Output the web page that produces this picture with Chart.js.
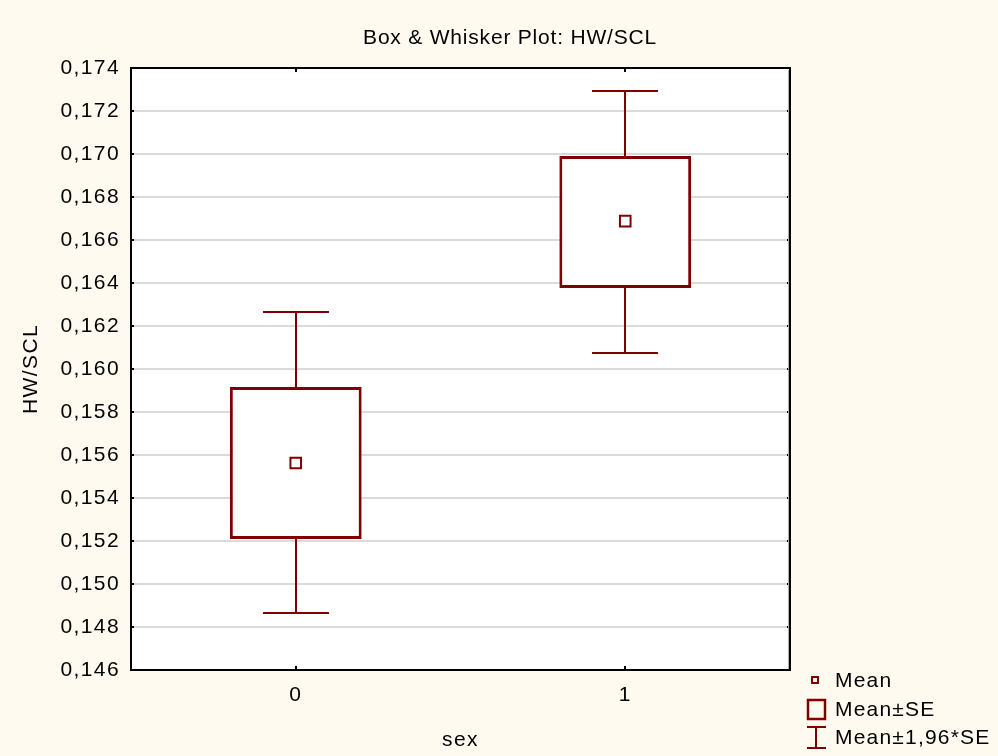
<!DOCTYPE html>
<html>
<head>
<meta charset="utf-8">
<script src="https://cdn.jsdelivr.net/npm/chart.js@4.4.0/dist/chart.umd.min.js"></script>
<style>
  body { margin: 0; background: #fffaf0; }
  canvas { display: block; }
</style>
</head>
<body>
<canvas id="chart" width="998" height="756"></canvas>
<script>
  const categories = ["0", "1"]
  const means = [0.15563, 0.16688]       // Mean
  const seLow = [0.15209, 0.16377]       // Mean-SE
  const seHigh = [0.15916, 0.16991]      // Mean+SE
  const ciLow = [0.14865, 0.16074]       // Mean-1,96*SE
  const ciHigh = [0.16265, 0.17293]      // Mean+1,96*SE
  const yTicks = [0.146, 0.148, 0.150, 0.152, 0.154, 0.156, 0.158, 0.160, 0.162, 0.164, 0.166, 0.168, 0.170, 0.172, 0.174]

  const red = "#800000"
  const font = "'Liberation Sans', Arial, sans-serif"

  function fmt(v){  // 0.146 -> 0,146
    return Number(v).toFixed(3).replace(".", ",")
  }

  const backPlugin = {
    id: "back",
    beforeDraw(chart){
      const ctx = chart.ctx
      const a = chart.chartArea
      ctx.letterSpacing = "1.4px"
      ctx.save()
      ctx.fillStyle = "#fffaf0"
      ctx.fillRect(0, 0, chart.width, chart.height)
      ctx.fillStyle = "#ffffff"
      ctx.fillRect(a.left, a.top, a.right - a.left, a.bottom - a.top)
      ctx.restore()
    }
  }

  const whiskerPlugin = {  // the 1,96*SE whiskers, drawn under the boxes
    id: "whiskers",
    beforeDatasetsDraw(chart){
      const ctx = chart.ctx
      const xs = chart.scales.x
      const ys = chart.scales.y
      const half = (xs.getPixelForValue(1) - xs.getPixelForValue(0)) * 0.1
      ctx.save()
      ctx.strokeStyle = red
      ctx.lineWidth = 2
      for (let i = 0; i < categories.length; i++) {
        const x = Math.round(xs.getPixelForValue(i))
        const yl = Math.round(ys.getPixelForValue(ciLow[i]))
        const yh = Math.round(ys.getPixelForValue(ciHigh[i]))
        ctx.beginPath()
        ctx.moveTo(x, yl); ctx.lineTo(x, yh)
        ctx.moveTo(x - half, yl); ctx.lineTo(x + half, yl)
        ctx.moveTo(x - half, yh); ctx.lineTo(x + half, yh)
        ctx.stroke()
      }
      ctx.restore()
    }
  }

  const framePlugin = {  // frame, inner ticks, title and legend
    id: "frame",
    afterDraw(chart){
      const ctx = chart.ctx
      const a = chart.chartArea
      const xs = chart.scales.x
      const ys = chart.scales.y
      ctx.save()
      ctx.strokeStyle = "#000"
      ctx.lineWidth = 2
      ctx.strokeRect(a.left, a.top, a.right - a.left, a.bottom - a.top)
      ctx.beginPath()
      yTicks.forEach((t)=>{
        const y = Math.round(ys.getPixelForValue(t))
        ctx.moveTo(a.left, y); ctx.lineTo(a.left + 3, y)
        ctx.moveTo(a.right, y); ctx.lineTo(a.right - 3, y)
      })
      categories.forEach((c, i)=>{
        const x = Math.round(xs.getPixelForValue(i))
        ctx.moveTo(x, a.top); ctx.lineTo(x, a.top + 4)
        ctx.moveTo(x, a.bottom); ctx.lineTo(x, a.bottom - 4)
      })
      ctx.stroke()
      ctx.strokeStyle = "#b0b0b0"   // light shadow inside the right edge
      ctx.lineWidth = 1
      ctx.beginPath()
      ctx.moveTo(a.right - 1.5, a.top + 2); ctx.lineTo(a.right - 1.5, a.bottom - 1)
      ctx.stroke()

      ctx.fillStyle = "#000"
      ctx.letterSpacing = "0.8px"
      ctx.font = "21px " + font
      ctx.textAlign = "center"
      ctx.textBaseline = "alphabetic"
      ctx.fillText("Box & Whisker Plot: HW/SCL", 510, 44)

      // legend
      ctx.strokeStyle = red
      ctx.lineWidth = 2
      ctx.strokeRect(812, 677, 6, 6)
      ctx.lineWidth = 2.5
      ctx.strokeRect(808, 700, 17, 19)
      ctx.lineWidth = 2
      ctx.beginPath()
      ctx.moveTo(816, 727); ctx.lineTo(816, 748)
      ctx.moveTo(807, 727); ctx.lineTo(826, 727)
      ctx.moveTo(807, 748); ctx.lineTo(826, 748)
      ctx.stroke()
      ctx.letterSpacing = "1.2px"
      ctx.font = "21px " + font
      ctx.textAlign = "left"
      ctx.textBaseline = "middle"
      ctx.fillText("Mean", 835, 681)
      ctx.fillText("Mean\u00b1SE", 835, 710)
      ctx.fillText("Mean\u00b11,96*SE", 835, 738)
      ctx.restore()
    }
  }

  function createData(){
    return {
      labels: categories,
      datasets: [
        {
          type: "line",
          label: "Mean",
          data: means,
          showLine: false,
          pointStyle: "rect",
          pointRadius: 7.5,
          pointBorderWidth: 2,
          pointBackgroundColor: "#fff",
          pointBorderColor: red,
          order: 0
        },
        {
          type: "bar",
          label: "Mean\u00b1SE",
          data: seLow.map((l, i)=>[l, seHigh[i]]),
          backgroundColor: "#fff",
          borderColor: red,
          borderWidth: 3,
          borderSkipped: false,
          categoryPercentage: 1,
          barPercentage: 0.4,
          order: 1
        }
      ]
    }
  }

  const config = {
    type: "bar",
    data: createData(),
    options: {
      responsive: false,
      animation: false,
      devicePixelRatio: 1,
      layout: { padding: { top: 68, right: 208, left: 0, bottom: 0 } },
      plugins: { legend: { display: false }, tooltip: { enabled: false } },
      scales: {
        x: {
          type: "category",
          offset: true,
          grid: { display: false, drawTicks: false },
          border: { display: false },
          ticks: { color: "#000", font: { family: font, size: 21 }, padding: 13 },
          title: { display: true, text: "sex", color: "#000", font: { family: font, size: 21 }, padding: { bottom: 3 } },
          afterFit: (s)=>{ s.height = 86 }
        },
        y: {
          min: 0.146,
          max: 0.174,
          afterBuildTicks: (s)=>{ s.ticks = yTicks.map((v)=>({ value: v })) },
          grid: { color: "#dadada", lineWidth: 2, drawTicks: false },
          border: { display: false },
          ticks: { color: "#000", font: { family: font, size: 21 }, padding: 11, callback: (v)=>fmt(v) },
          title: { display: true, text: "HW/SCL", color: "#000", font: { family: font, size: 21 }, padding: { top: 19 } },
          afterFit: (s)=>{ s.width = 131 }
        }
      }
    },
    plugins: [backPlugin, whiskerPlugin, framePlugin]
  }

  const myChart = new Chart(document.getElementById("chart"), config)
</script>
</body>
</html>
